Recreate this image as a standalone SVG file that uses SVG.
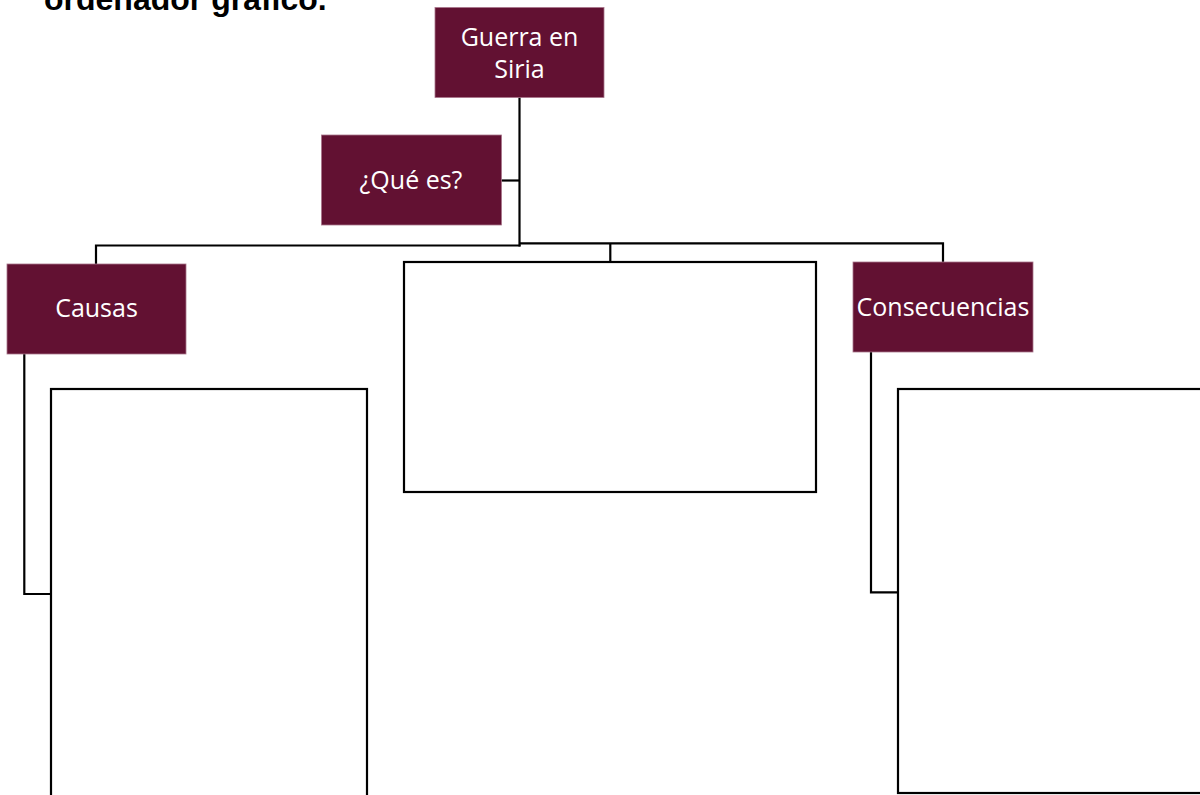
<svg xmlns="http://www.w3.org/2000/svg" width="1200" height="795" viewBox="0 0 1200 795">
<style>
.head{fill:#621132;stroke:#a8758a;stroke-width:0.8}
.lbl{font-family:"Open Sans","Noto Sans",sans-serif;font-size:25px;fill:#ffffff;text-anchor:middle}
.blank{fill:#ffffff;stroke:#000000;stroke-width:2.2}
.conn{fill:none;stroke:#000000;stroke-width:2.2;stroke-linejoin:miter}
.title{font-family:"Liberation Sans",Arial,sans-serif;font-weight:bold;font-size:32px;fill:#000000}
</style>
<rect width="1200" height="795" fill="#ffffff"/>
<text class="title" x="44" y="10">ordenador gráfico.</text>
<g id="connectors">
<path class="conn" d="M519.5,97 V246.5"/>
<path class="conn" d="M501,180.5 H519.5"/>
<path class="conn" d="M96,264 V245.5 H520.5"/>
<path class="conn" d="M519.5,243.3 H943 V262"/>
<path class="conn" d="M610.3,243.3 V262"/>
<path class="conn" d="M24.3,354 V594 H51"/>
<path class="conn" d="M871,352 V592.3 H898"/>
</g>
<g id="node-guerra">
<rect class="head" x="435" y="7.5" width="169" height="90"/>
<text class="lbl" x="519.5" y="45.7">Guerra en</text>
<text class="lbl" x="519.5" y="78.3">Siria</text>
</g>
<g id="node-que-es">
<rect class="head" x="321.5" y="135" width="180" height="90"/>
<text class="lbl" x="411" y="189.3">¿Qué es?</text>
</g>
<g id="node-causas">
<rect class="head" x="7" y="264" width="179" height="90"/>
<text class="lbl" x="96.5" y="317">Causas</text>
</g>
<g id="node-consecuencias">
<rect class="head" x="853" y="262" width="180" height="90"/>
<text class="lbl" x="943" y="316">Consecuencias</text>
</g>
<g id="node-middle-box">
<rect class="blank" x="404" y="262" width="412" height="230"/>
</g>
<g id="node-causas-box">
<rect class="blank" x="51" y="389" width="316" height="420"/>
</g>
<g id="node-consecuencias-box">
<rect class="blank" x="898" y="389" width="320" height="404"/>
</g>
</svg>
